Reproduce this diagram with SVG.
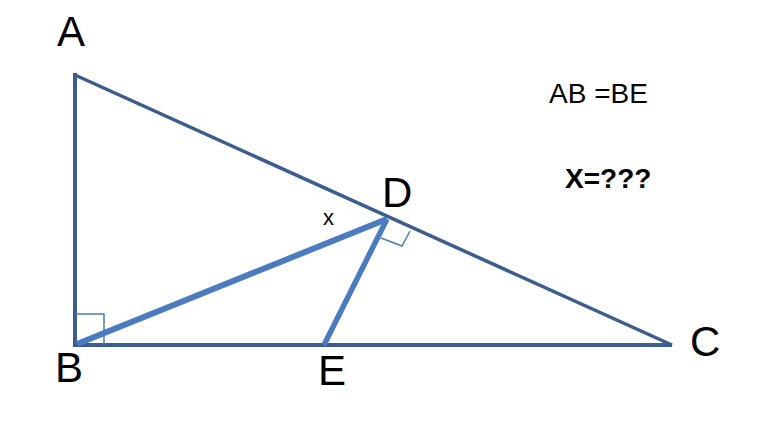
<svg xmlns="http://www.w3.org/2000/svg" width="777" height="428" viewBox="0 0 777 428">
<style>
.lbl{font-family:"Liberation Sans",Arial,sans-serif;fill:#000}
.edge{stroke:#3b5e8e;fill:none;stroke-linecap:butt}
.thick{stroke:#4a7cbf;fill:none}
.mark{stroke:#4a7cbf;fill:none;stroke-width:1.5}
</style>
<rect width="777" height="428" fill="#fff"/>
<g id="connectors">
<line class="edge" x1="75" y1="73" x2="75" y2="347" stroke-width="4"/>
<line class="edge" x1="73" y1="345" x2="672" y2="345" stroke-width="4"/>
<line class="edge" x1="75" y1="75" x2="672" y2="345" stroke-width="3.5"/>
<line class="thick" x1="77" y1="344" x2="387" y2="219" stroke-width="6"/>
<line class="thick" x1="387" y1="219" x2="324" y2="345" stroke-width="5.5"/>
<polyline class="mark" points="75,314 104,314 104,345"/>
<polyline class="mark" points="381,238 402,246 410,231"/>
</g>
<g id="A"><text class="lbl" x="57" y="46" font-size="42">A</text></g>
<g id="B"><text class="lbl" x="55" y="382" font-size="42">B</text></g>
<g id="C"><text class="lbl" x="690" y="356" font-size="42">C</text></g>
<g id="D"><text class="lbl" x="382" y="207" font-size="42">D</text></g>
<g id="E"><text class="lbl" x="318" y="385" font-size="42">E</text></g>
<g id="x-label"><text class="lbl" x="323" y="225" font-size="22">x</text></g>
<g id="given"><text class="lbl" x="549" y="103" font-size="28">AB =BE</text></g>
<g id="question"><text class="lbl" x="565" y="188" font-size="28" font-weight="bold">X=???</text></g>
</svg>
